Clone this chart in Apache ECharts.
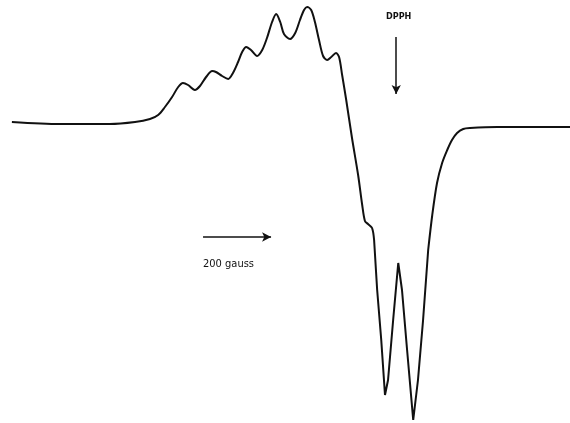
<!DOCTYPE html>
<html><head><meta charset="utf-8">
<script src="https://cdn.jsdelivr.net/npm/echarts@6/dist/echarts.min.js"></script>
<style>html,body{margin:0;padding:0;background:#fff}#c{width:570px;height:423px}</style>
</head><body><div id="c"></div>
<script>
// Magnetic field (gauss, arbitrary origin) and derivative signal (arbitrary units)
var fieldG = [35,176,323,397,441,465,485,506,524,538,553,573,588,606,624,635,653,671,685,700,712,724,738,756,771,785,800,812,824,835,853,868,882,894,903,915,926,938,950,962,974,988,997,1006,1018,1035,1053,1065,1073,1082,1094,1100,
  1109,1121,1132,1141,1156,1171,1182,1197,1215,1229,1244,1259,
  1271,1285,1300,1315,1329,1344,1362,1382,1462,1559,1676];
var intensity = [1,-1,-1,1,4,8,16,26,36,40,38,33,37,46,52,51,47,44,50,61,71,76,73,67,73,85,101,109,101,89,84,90,103,113,116,113,101,83,67,63,66,70,66,48,23,-15,-52,-82,-98,-101,-105,-117,
  -167,-217,-272,-257,-197,-140,-167,-227,-297,-257,-197,-127,
  -92,-60,-40,-27,-17,-10,-6,-5,-4,-4,-4];
// index range of the sharp (unsmoothed) hyperfine lines
var sharpStart = 51, sharpEnd = 63;
var dpphField = 1165, dpphFrom = 86, dpphTo = 29;
var scaleFrom = 597, scaleTo = 797, scaleLevel = -114;
var dpphLabel = 'DPPH', scaleLabel = '200 gauss';

function pts(a, b) {
  var out = [];
  for (var i = a; i <= b; i++) out.push([fieldG[i], intensity[i]]);
  return out;
}
var n = fieldG.length - 1;
var ls = {color: '#111', width: 2};
var chart = echarts.init(document.getElementById('c'));
chart.setOption({
  animation: false,
  backgroundColor: '#fff',
  grid: {left: 0, right: 0, top: 0, bottom: 0},
  xAxis: {type: 'value', min: 0, max: 1676, show: false},
  yAxis: {type: 'value', min: -300, max: 123, show: false},
  series: [
    {type: 'line', data: pts(0, sharpStart), smooth: 0.3, showSymbol: false, lineStyle: ls,
     markLine: {silent: true, symbol: ['none', 'arrow'], symbolSize: [7, 9],
       lineStyle: {color: '#111', width: 1.5, type: 'solid'}, label: {show: false},
       data: [
         [{coord: [dpphField, dpphFrom]}, {coord: [dpphField, dpphTo]}],
         [{coord: [scaleFrom, scaleLevel]}, {coord: [scaleTo, scaleLevel]}]
       ]}},
    {type: 'line', data: pts(sharpStart, sharpEnd), smooth: false, showSymbol: false, lineStyle: ls},
    {type: 'line', data: pts(sharpEnd, n), smooth: 0.3, showSymbol: false, lineStyle: ls}
  ],
  graphic: [
    {type: 'text', left: 386, top: 12, style: {text: dpphLabel, fill: '#111', font: 'bold 9px "DejaVu Sans Condensed", "Liberation Sans Narrow", sans-serif'}},
    {type: 'text', left: 203, top: 259, style: {text: scaleLabel, fill: '#111', font: '11px "DejaVu Sans Condensed", "Liberation Sans", sans-serif'}}
  ]
});
</script></body></html>
